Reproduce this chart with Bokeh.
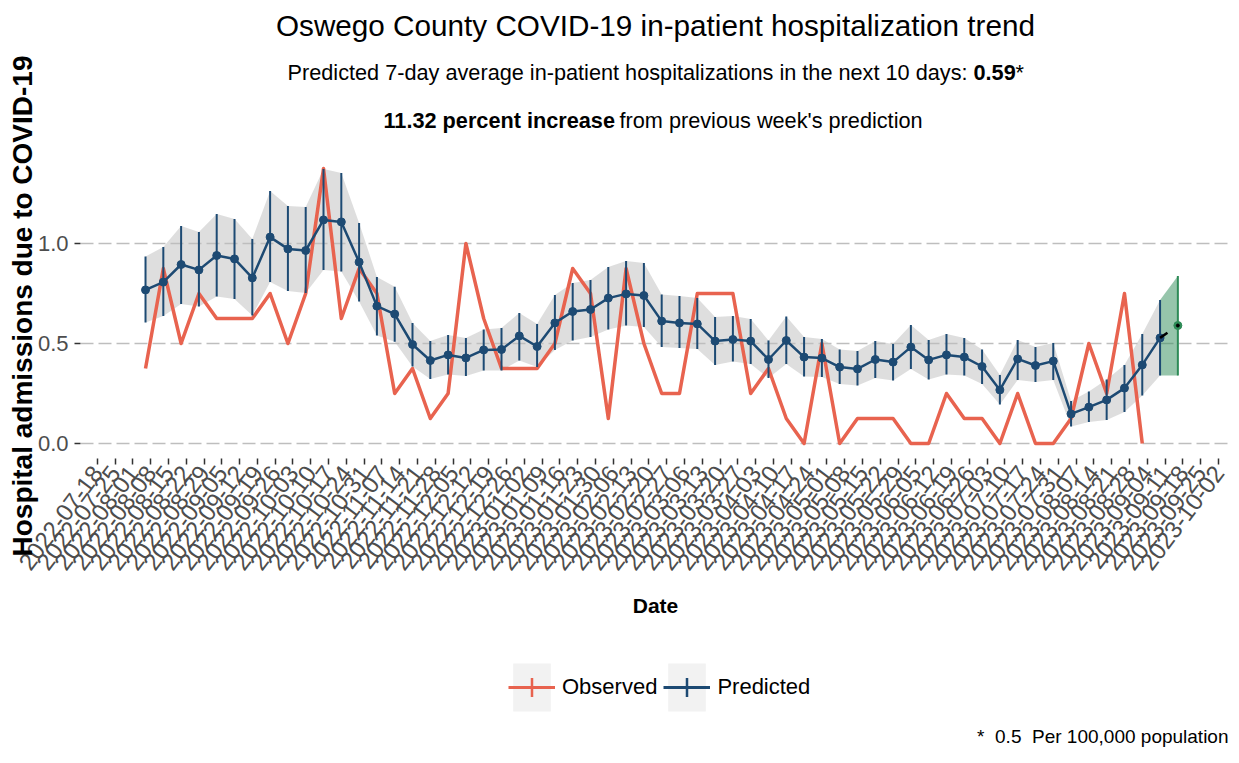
import pandas as pd
from bokeh.plotting import figure
from bokeh.layouts import column
from bokeh.models import (Range1d, FixedTicker, DatetimeTickFormatter, NumeralTickFormatter,
                          Legend, LegendItem)
from bokeh.core.properties import value
from bokeh.embed import file_html
from bokeh.resources import INLINE

FONT = "Liberation Sans"

# ---------------- data ----------------
first_date = "2022-08-06"
observed = [0.375, 0.875, 0.5, 0.75, 0.625, 0.625, 0.625, 0.75, 0.5, 0.75,
            1.375, 0.625, 0.875, 0.75, 0.25, 0.375, 0.125, 0.25, 1.0, 0.625,
            0.375, 0.375, 0.375, 0.5, 0.875, 0.75, 0.125, 0.875, 0.5, 0.25,
            0.25, 0.75, 0.75, 0.75, 0.25, 0.375, 0.125, 0.0, 0.5, 0.0,
            0.125, 0.125, 0.125, 0.0, 0.0, 0.25, 0.125, 0.125, 0.0, 0.25,
            0.0, 0.0, 0.125, 0.5, 0.25, 0.75, 0.0]
predicted = [0.768, 0.807, 0.895, 0.868, 0.94, 0.923, 0.828, 1.032, 0.973, 0.965,
             1.118, 1.108, 0.907, 0.687, 0.647, 0.495, 0.415, 0.443, 0.428, 0.468,
             0.47, 0.538, 0.485, 0.603, 0.66, 0.67, 0.727, 0.748, 0.74, 0.612,
             0.603, 0.598, 0.512, 0.52, 0.512, 0.42, 0.515, 0.432, 0.427, 0.382,
             0.373, 0.42, 0.407, 0.482, 0.418, 0.443, 0.432, 0.385, 0.268, 0.423,
             0.39, 0.412, 0.148, 0.182, 0.218, 0.277, 0.393, 0.528]
pred_upper = [0.935, 0.982, 1.088, 1.058, 1.147, 1.123, 1.022, 1.263, 1.187, 1.182,
              1.373, 1.353, 1.103, 0.833, 0.784, 0.603, 0.512, 0.543, 0.527, 0.57,
              0.577, 0.653, 0.598, 0.743, 0.803, 0.818, 0.882, 0.912, 0.902, 0.745,
              0.737, 0.728, 0.632, 0.637, 0.623, 0.515, 0.635, 0.532, 0.523, 0.47,
              0.462, 0.512, 0.498, 0.593, 0.518, 0.548, 0.527, 0.47, 0.342, 0.518,
              0.482, 0.502, 0.212, 0.26, 0.32, 0.393, 0.548, 0.718]
pred_lower = [0.605, 0.637, 0.698, 0.685, 0.735, 0.722, 0.64, 0.807, 0.763, 0.752,
              0.868, 0.86, 0.71, 0.54, 0.509, 0.385, 0.323, 0.345, 0.338, 0.365,
              0.365, 0.415, 0.382, 0.468, 0.515, 0.532, 0.57, 0.59, 0.582, 0.482,
              0.478, 0.472, 0.393, 0.41, 0.398, 0.327, 0.398, 0.335, 0.332, 0.298,
              0.29, 0.328, 0.315, 0.373, 0.32, 0.345, 0.34, 0.298, 0.195, 0.318,
              0.307, 0.318, 0.085, 0.107, 0.118, 0.157, 0.24, 0.34]
forecast_date = "2023-09-16"
forecast_value = 0.59
forecast_lower = 0.34
forecast_upper = 0.837
tick_start = "2022-07-18"
tick_end = "2023-10-02"
y_ticks = [0.0, 0.5, 1.0]
series_labels = ["Observed", "Predicted"]

pred_dates = pd.date_range(first_date, periods=len(predicted), freq="7D")
obs_dates = pred_dates[:len(observed)]
tick_dates = pd.date_range(tick_start, tick_end, freq="7D")
tick_labels = [d.strftime("%Y-%m-%d") for d in tick_dates]
fc_date = pd.Timestamp(forecast_date)


def ms(t):
    return pd.Timestamp(t).value / 1e6


DAY = 86400000.0

# ---------------- layout ----------------
W = 1231
H_MAIN = 590
H_FOOT = 157
FL, FR, FT, FB = 80, 1230, 153, 458
t0 = ms(tick_start)
x0, x1 = t0 - 6.57 * DAY, t0 + 445.7 * DAY
y0, y1 = -0.075, 1.45


def X(px):
    return x0 + (px - FL) / (FR - FL) * (x1 - x0)


def Y(py):
    return y1 - (py - FT) / (FB - FT) * (y1 - y0)


p = figure(width=W, height=H_MAIN, x_axis_type="datetime",
           x_range=Range1d(x0, x1), y_range=Range1d(y0, y1),
           output_backend="svg", toolbar_location=None,
           min_border_left=FL, min_border_right=W - FR,
           min_border_top=FT, min_border_bottom=H_MAIN - FB)
p.background_fill_color = "white"
p.border_fill_color = "white"
p.outline_line_color = None

# grid
p.xgrid.visible = False
p.ygrid.ticker = FixedTicker(ticks=y_ticks)
p.ygrid.grid_line_color = "#BEBEBE"
p.ygrid.grid_line_width = 1.6
p.ygrid.grid_line_dash = "13 5"

# axes
p.xaxis.ticker = FixedTicker(ticks=[ms(d) for d in tick_dates])
fmt = "%Y-%m-%d"
p.xaxis.formatter = DatetimeTickFormatter(milliseconds=fmt, seconds=fmt, minsec=fmt, minutes=fmt,
                                          hourmin=fmt, hours=fmt, days=fmt, months=fmt, years=fmt)
p.xaxis.major_label_orientation = 0.93
p.yaxis.ticker = FixedTicker(ticks=y_ticks)
p.yaxis.formatter = NumeralTickFormatter(format="0.0")
for ax in (p.xaxis, p.yaxis):
    ax.axis_line_color = None
    ax.major_tick_line_color = "#333333"
    ax.major_tick_line_width = 1.5
    ax.major_tick_out = 6
    ax.major_tick_in = 0
    ax.minor_tick_line_color = None
    ax.major_label_text_color = "#4D4D4D"
    ax.major_label_text_font = FONT
    ax.major_label_standoff = 4
p.yaxis.major_label_standoff = 6
p.xaxis.major_label_text_font_size = "24px"
p.yaxis.major_label_text_font_size = "22px"
p.yaxis.axis_label = "Hospital admissions due to COVID-19"
p.yaxis.axis_label_text_font = FONT
p.yaxis.axis_label_text_font_size = "28px"
p.yaxis.axis_label_text_font_style = "bold"
p.yaxis.axis_label_text_color = "black"
p.yaxis.axis_label_standoff = -3

RED = "#E8634F"
NAVY = "#1D4A73"
GREEN = "#2E8B57"

# ribbon of predicted interval
p.varea(x=pred_dates, y1=pred_lower, y2=pred_upper, fill_color="#BEBEBE", fill_alpha=0.5)
# forecast ribbon
g_x = [pred_dates[-1], fc_date]
p.varea(x=g_x, y1=[pred_lower[-1], forecast_lower], y2=[pred_upper[-1], forecast_upper],
        fill_color=GREEN, fill_alpha=0.5)

# observed
p.line(obs_dates, observed, line_color=RED, line_width=3.5, line_join="round")

# predicted
p.segment(x0=pred_dates, y0=pred_lower, x1=pred_dates, y1=pred_upper, line_color=NAVY, line_width=2)
p.line(pred_dates, predicted, line_color=NAVY, line_width=2.5)
p.scatter(pred_dates, predicted, size=8, fill_color=NAVY, line_color=NAVY)

# forecast
p.segment(x0=[fc_date], y0=[forecast_lower], x1=[fc_date], y1=[forecast_upper],
          line_color=GREEN, line_width=2)
p.line([pred_dates[-1], fc_date], [predicted[-1], forecast_value],
       line_color="black", line_width=2.5, line_dash="9 40")
p.scatter([fc_date], [forecast_value], size=8, fill_color=GREEN, line_color=GREEN)
p.scatter([fc_date], [forecast_value], size=3, fill_color="black", line_color="black")


def add_text(fig, xx, yy, text, size, align="left", bold=False, angle=0.0, color="black"):
    fig.text(x=[xx], y=[yy], text=[text], text_font=value(FONT), text_font_size=value(f"{size}px"),
             text_align=align, text_baseline="middle", text_color=color, angle=angle,
             text_font_style="bold" if bold else "normal", level="overlay")


# header texts (positioned in screen px above the frame)
add_text(p, X(655), Y(25), "Oswego County COVID-19 in-patient hospitalization trend", 29.7, align="center")
add_text(p, X(967), Y(71.5), "Predicted 7-day average in-patient hospitalizations in the next 10 days:", 21.7,
         align="right")
add_text(p, X(973), Y(71.5), "0.59", 21.7, bold=True)
add_text(p, X(1015), Y(71.5), "*", 21.7)
add_text(p, X(383), Y(120), "11.32 percent increase", 21.7, bold=True)
add_text(p, X(619), Y(120), "from previous week's prediction", 21.7)

# ---------------- footer: axis title, legend, note ----------------
# footer frame is aligned with the main frame (page x FL..FR); data units = page px
FOOT_TOP = H_MAIN
f = figure(width=W, height=H_FOOT, x_range=Range1d(FL, FR), y_range=Range1d(FOOT_TOP + H_FOOT, FOOT_TOP),
           output_backend="svg", toolbar_location=None, min_border=0,
           x_axis_location=None, y_axis_location=None)
f.outline_line_color = None
f.xgrid.visible = False
f.ygrid.visible = False
f.background_fill_color = "white"
f.border_fill_color = "white"

add_text(f, 655, 605, "Date", 21, align="center", bold=True)
add_text(f, 1228, 736, "*\u00a0 0.5\u00a0 Per 100,000 population", 19, align="right")

# legend key renderers (kept off the visible footer area; only their legend keys show)
off = [FOOT_TOP - 50]
keys = []
for col in (RED, NAVY):
    bg = f.quad(left=[0], right=[1], top=off, bottom=off, fill_color="#F2F2F2", line_color=None)
    ln = f.line([0, 1], off * 2, line_color=col, line_width=3)
    vt = f.scatter([0], off, marker="cross", line_color=col, line_width=2.5, size=36)
    keys.append([bg, ln, vt])
legend = Legend(items=[LegendItem(label=lab, renderers=r) for lab, r in zip(series_labels, keys)],
                orientation="horizontal", location=(508 - FL, 30),
                glyph_width=47, glyph_height=60, label_standoff=7, spacing=6,
                padding=0, margin=0, border_line_color=None, background_fill_alpha=0,
                label_text_font=FONT, label_text_font_size="22px", label_text_color="black")
f.add_layout(legend)

layout = column(p, f, spacing=0)
open("out.html", "w").write(file_html(layout, INLINE))
